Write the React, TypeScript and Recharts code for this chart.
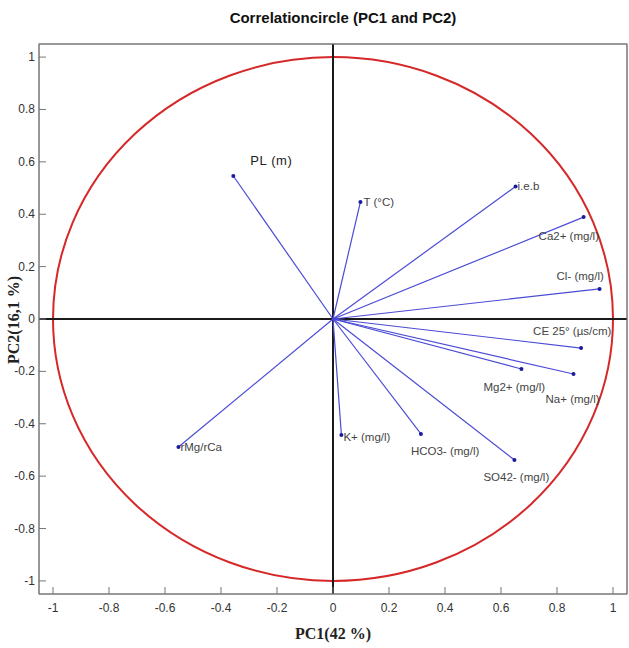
import {
  ComposedChart,
  XAxis,
  YAxis,
  Scatter,
  ReferenceLine,
  ReferenceArea,
} from "recharts";

// variable loadings on the first two principal components
const variables = [
  "PL (m)",
  "T (°C)",
  "i.e.b",
  "Ca2+ (mg/l)",
  "Cl- (mg/l)",
  "CE 25° (µs/cm)",
  "Mg2+ (mg/l)",
  "Na+ (mg/l)",
  "HCO3- (mg/l)",
  "SO42- (mg/l)",
  "K+ (mg/l)",
  "rMg/rCa",
];
const pc1 = [-0.356, 0.098, 0.652, 0.895, 0.952, 0.886, 0.673, 0.859, 0.314, 0.648, 0.03, -0.552];
const pc2 = [0.546, 0.447, 0.506, 0.389, 0.115, -0.111, -0.191, -0.21, -0.439, -0.538, -0.443, -0.489];

const axisTicks = [-1, -0.8, -0.6, -0.4, -0.2, 0, 0.2, 0.4, 0.6, 0.8, 1];

// label placement next to each arrow tip (px)
const labelDx = [17, 3, 2, -45, -43, -48, -38, -28, -10, -31, 2, 2];
const labelDy = [-16, 0, 0, 19, -13, -17, 18, 25, 17, 17, 2, 0];

const frameColor = "#777777";
const vectorColor = "#4b4bd6";
const tickFont = "'Liberation Sans Narrow', 'Liberation Sans', Arial, sans-serif";

const points = variables.map((name, i) => ({ x: pc1[i], y: pc2[i], name, i }));

const fmt = (v: number) => String(v);

const BottomTick = (props: any) => {
  const { x, y, payload } = props;
  return (
    <g>
      <line x1={x} y1={y} x2={x} y2={y - 7} stroke={frameColor} />
      <text x={x} y={y + 18} textAnchor="middle" fontSize={12} fill="#333" fontFamily={tickFont}>
        {fmt(payload.value)}
      </text>
    </g>
  );
};

const TopTick = (props: any) => {
  const { x, y } = props;
  return <line x1={x} y1={y} x2={x} y2={y + 7} stroke={frameColor} />;
};

const LeftTick = (props: any) => {
  const { x, y, payload } = props;
  return (
    <g>
      <line x1={x} y1={y} x2={x + 7} y2={y} stroke={frameColor} />
      <text x={x - 4} y={y + 4} textAnchor="end" fontSize={12} fill="#333" fontFamily={tickFont}>
        {fmt(payload.value)}
      </text>
    </g>
  );
};

const RightTick = (props: any) => {
  const { x, y } = props;
  return <line x1={x} y1={y} x2={x - 7} y2={y} stroke={frameColor} />;
};

const VectorTip = (props: any) => {
  const { cx, cy, payload } = props;
  const i = payload.i;
  const big = i === 0;
  return (
    <g>
      <circle cx={cx} cy={cy} r={2} fill="#1a1a9e" />
      <text
        x={cx + labelDx[i]}
        y={cy + labelDy[i]}
        dominantBaseline="central"
        fontSize={big ? 13 : 11.5}
        fill={big ? "#222" : "#444"}
        fontFamily={big ? "'Liberation Sans', Arial, sans-serif" : tickFont}
        letterSpacing={big ? 0.6 : 0}
      >
        {payload.name}
      </text>
    </g>
  );
};

const UnitCircle = (props: any) => {
  const { x, y, width, height } = props;
  return (
    <ellipse
      cx={x + width / 2}
      cy={y + height / 2}
      rx={width / 2}
      ry={height / 2}
      fill="none"
      stroke="#d62828"
      strokeWidth={2}
    />
  );
};

const Frame = (props: any) => {
  const { x, y, width, height } = props;
  return <rect x={x} y={y} width={width} height={height} fill="none" stroke={frameColor} />;
};

export default function App() {
  return (
    <div style={{ position: "absolute", left: 0, top: 0, width: 629, height: 648, background: "#fff" }}>
      <ComposedChart width={629} height={648} margin={{ top: 43, right: 1, bottom: 0, left: 0 }}>
        <XAxis
          xAxisId="b"
          dataKey="x"
          type="number"
          domain={[-1.05, 1.05]}
          ticks={axisTicks}
          orientation="bottom"
          height={54}
          tickSize={0}
          tickMargin={0}
          tickLine={false}
          axisLine={{ stroke: frameColor }}
          tick={<BottomTick />}
          interval={0}
        />
        <XAxis
          xAxisId="t"
          dataKey="x"
          type="number"
          domain={[-1.05, 1.05]}
          ticks={axisTicks}
          orientation="top"
          height={1}
          tickSize={0}
          tickMargin={0}
          tickLine={false}
          axisLine={{ stroke: frameColor }}
          tick={<TopTick />}
          interval={0}
        />
        <YAxis
          yAxisId="l"
          dataKey="y"
          type="number"
          domain={[-1.05, 1.05]}
          ticks={axisTicks}
          orientation="left"
          width={39}
          tickSize={0}
          tickMargin={0}
          tickLine={false}
          axisLine={{ stroke: frameColor }}
          tick={<LeftTick />}
          interval={0}
        />
        <YAxis
          yAxisId="r"
          dataKey="y"
          type="number"
          domain={[-1.05, 1.05]}
          ticks={axisTicks}
          orientation="right"
          width={1}
          tickSize={0}
          tickMargin={0}
          tickLine={false}
          axisLine={{ stroke: frameColor }}
          tick={<RightTick />}
          interval={0}
        />
        <ReferenceArea
          xAxisId="b"
          yAxisId="l"
          x1={-1.05}
          x2={1.05}
          y1={-1.05}
          y2={1.05}
          shape={<Frame />}
        />
        <ReferenceLine xAxisId="b" yAxisId="l" x={0} stroke="#1a1a1a" strokeWidth={2} />
        <ReferenceLine xAxisId="b" yAxisId="l" y={0} stroke="#1a1a1a" strokeWidth={2} />
        {points.map((p) => (
          <ReferenceLine
            key={p.name}
            xAxisId="b"
            yAxisId="l"
            segment={[
              { x: 0, y: 0 },
              { x: p.x, y: p.y },
            ]}
            stroke={vectorColor}
            strokeWidth={1.2}
          />
        ))}
        <ReferenceArea
          xAxisId="b"
          yAxisId="l"
          x1={-1}
          x2={1}
          y1={-1}
          y2={1}
          shape={<UnitCircle />}
        />
        <Scatter
          xAxisId="b"
          yAxisId="l"
          data={points}
          shape={<VectorTip />}
          isAnimationActive={false}
        />
      </ComposedChart>
      <svg
        width={629}
        height={648}
        style={{ position: "absolute", left: 0, top: 0, pointerEvents: "none" }}
      >
        <text
          x={343}
          y={23}
          textAnchor="middle"
          fontSize={15}
          fontWeight="bold"
          fill="#111"
          fontFamily="'Liberation Sans Narrow', 'Liberation Sans', Arial, sans-serif"
        >
          Correlationcircle (PC1 and PC2)
        </text>
        <text
          x={333}
          y={639}
          textAnchor="middle"
          fontSize={16}
          fontWeight="bold"
          fill="#222"
          fontFamily="'Liberation Serif', 'Times New Roman', serif"
        >
          PC1(42 %)
        </text>
        <text
          x={19}
          y={320}
          textAnchor="middle"
          fontSize={16}
          fontWeight="bold"
          fill="#222"
          fontFamily="'Liberation Serif', 'Times New Roman', serif"
          transform="rotate(-90 19 320)"
        >
          PC2(16,1 %)
        </text>
      </svg>
    </div>
  );
}
